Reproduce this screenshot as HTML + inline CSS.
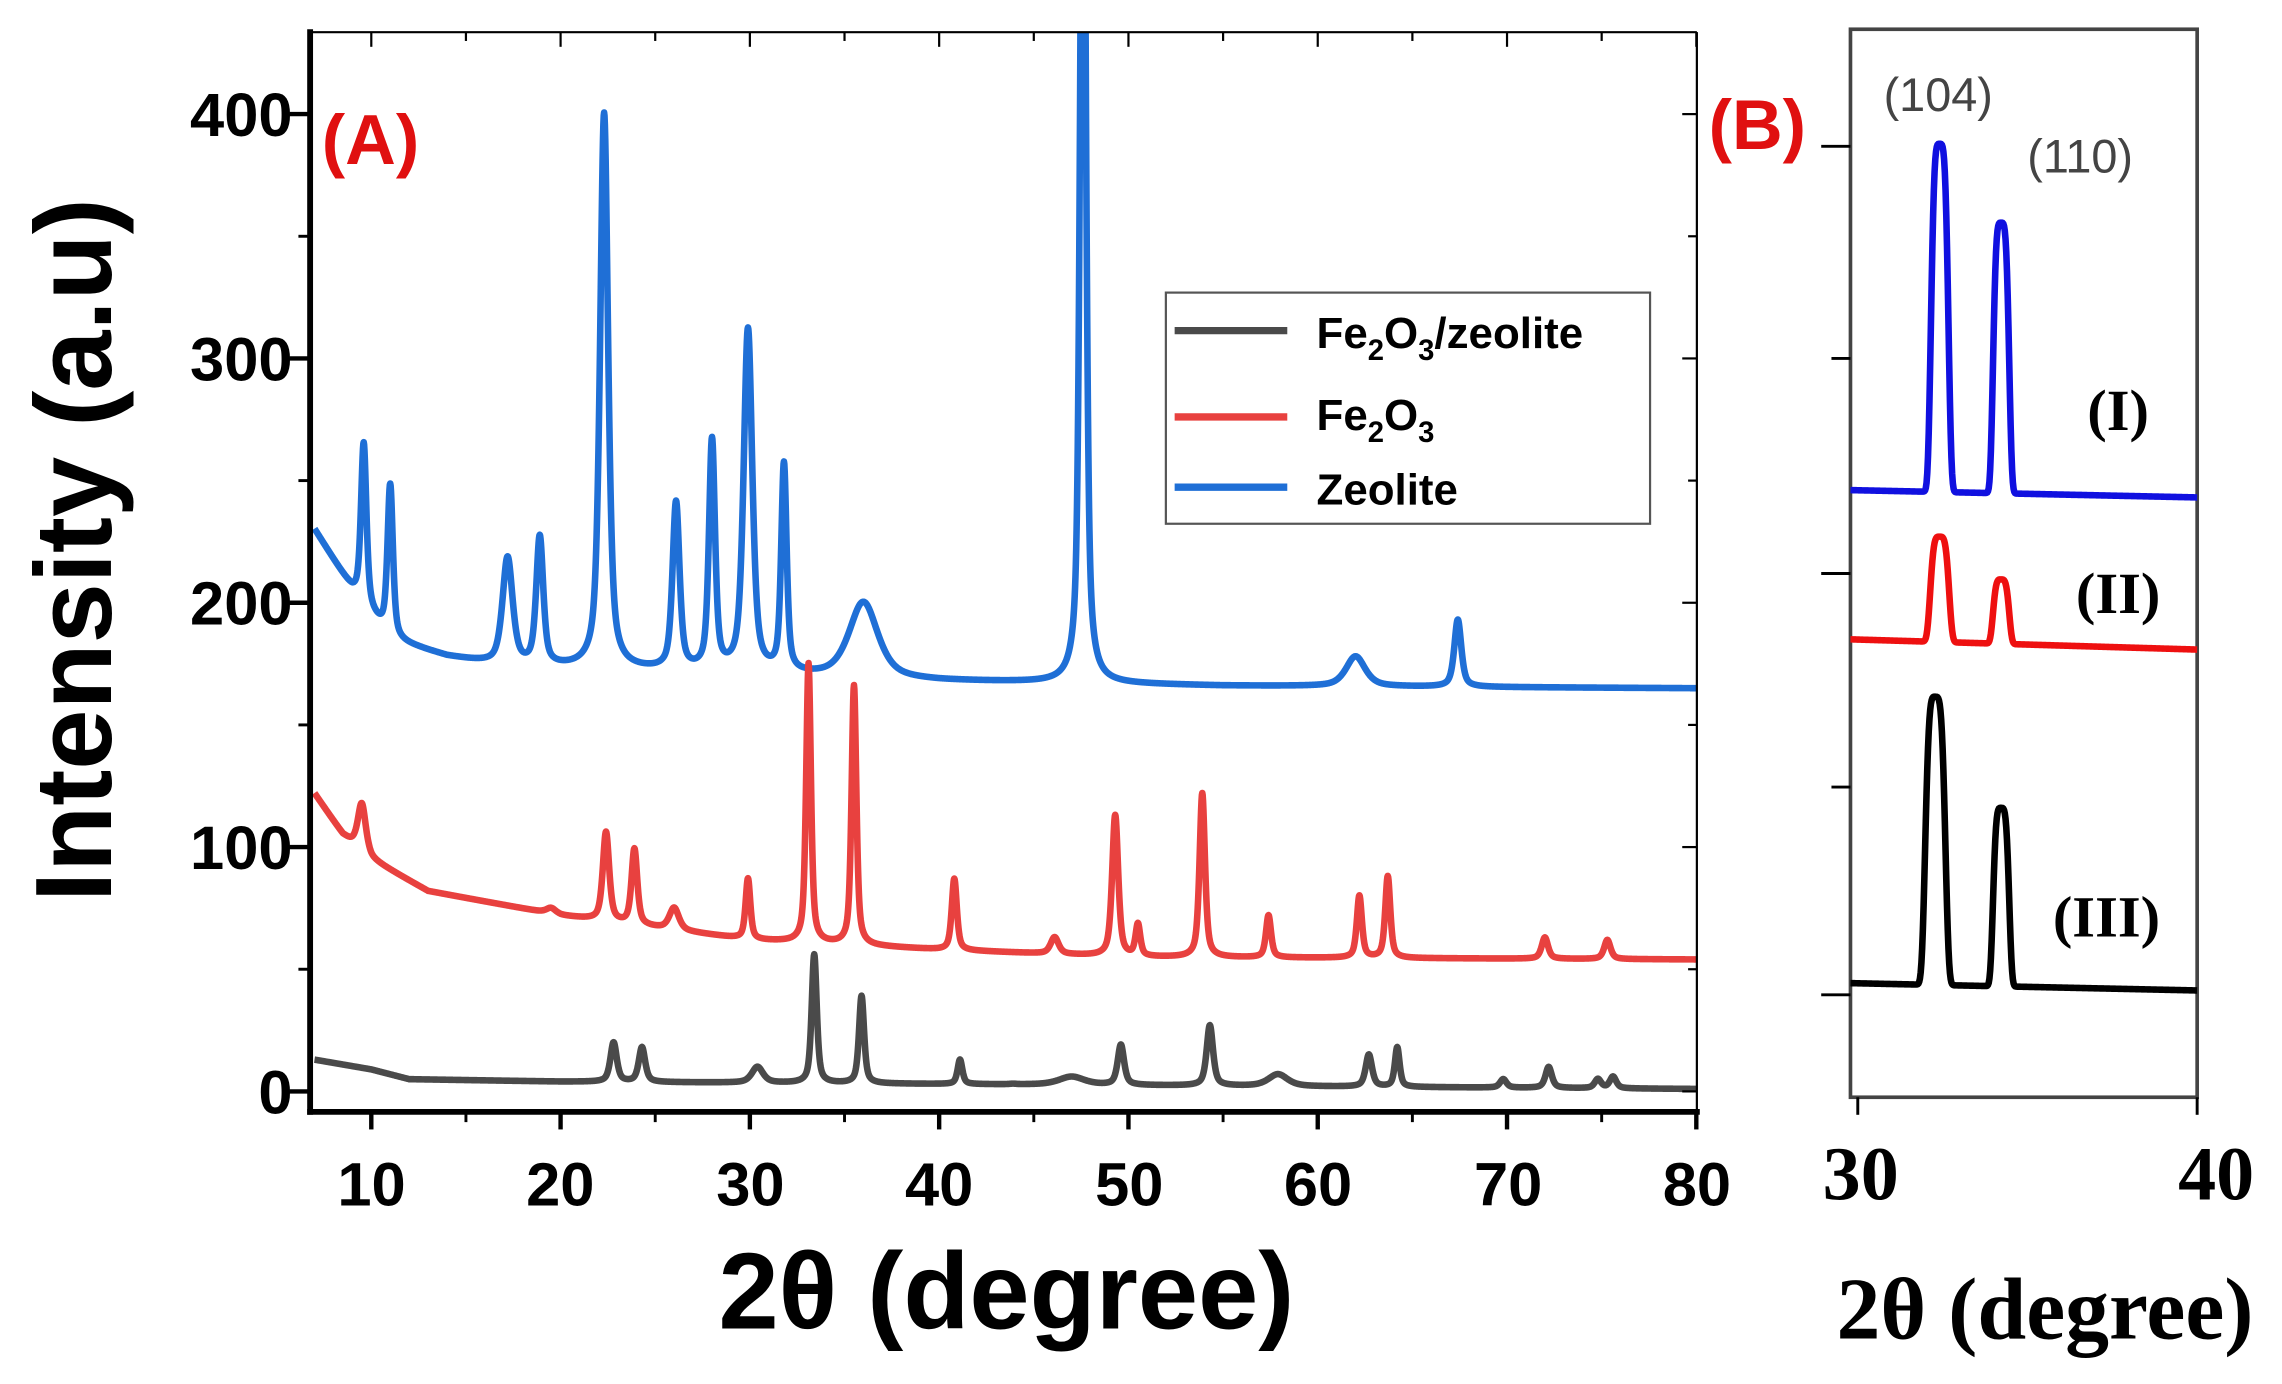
<!DOCTYPE html>
<html><head><meta charset="utf-8"><style>
html,body{margin:0;padding:0;background:#fff}
svg{display:block}
</style></head><body>
<svg id="s" width="2282" height="1384" viewBox="0 0 1560 946" preserveAspectRatio="none" xmlns="http://www.w3.org/2000/svg">
<rect width="1560" height="946" fill="#fff"/>
<defs><clipPath id="ca"><rect x="212" y="22" width="948" height="738"/></clipPath></defs>
<g id="series" clip-path="url(#ca)"></g>
<line x1="212" y1="20" x2="212" y2="762" stroke="#000" stroke-width="4"/>
<line x1="210" y1="760" x2="1162" y2="760" stroke="#000" stroke-width="4"/>
<line x1="212" y1="22" x2="1160" y2="22" stroke="#000" stroke-width="1.5"/>
<line x1="1160" y1="22" x2="1160" y2="760" stroke="#000" stroke-width="1.5"/>
<g id="ticks" stroke="#000"></g>
<g font-family="Liberation Sans, sans-serif" font-weight="bold" font-size="42" fill="#000" text-anchor="end">
<text x="200" y="93">400</text><text x="200" y="260">300</text><text x="200" y="427">200</text><text x="200" y="594">100</text><text x="200" y="761">0</text>
</g>
<g font-family="Liberation Sans, sans-serif" font-weight="bold" font-size="42" fill="#000" text-anchor="middle">
<text x="254" y="824">10</text><text x="383" y="824">20</text><text x="513" y="824">30</text><text x="642" y="824">40</text><text x="772" y="824">50</text><text x="901" y="824">60</text><text x="1031" y="824">70</text><text x="1160" y="824">80</text>
</g>
<text x="688" y="908" font-family="Liberation Sans, sans-serif" font-weight="bold" font-size="74" text-anchor="middle">2θ (degree)</text>
<text transform="translate(76,376) rotate(-90)" font-family="Liberation Sans, sans-serif" font-weight="bold" font-size="74" text-anchor="middle">Intensity (a.u)</text>
<text x="220" y="112" font-family="Liberation Sans, sans-serif" font-weight="bold" font-size="48" fill="#e01010">(A)</text>
<text x="1168" y="102" font-family="Liberation Sans, sans-serif" font-weight="bold" font-size="48" fill="#e01010">(B)</text>
<rect x="797" y="200" width="331" height="158" fill="#fff" stroke="#555" stroke-width="1.5"/>
<line x1="803" y1="226" x2="880" y2="226" stroke="#4a4a4a" stroke-width="5"/>
<line x1="803" y1="285" x2="880" y2="285" stroke="#e8413f" stroke-width="5"/>
<line x1="803" y1="333" x2="880" y2="333" stroke="#1f6fd6" stroke-width="5"/>
<g font-family="Liberation Sans, sans-serif" font-weight="bold" font-size="30" fill="#000">
<text x="900" y="238">Fe<tspan font-size="20" dy="8">2</tspan><tspan dy="-8">O</tspan><tspan font-size="20" dy="8">3</tspan><tspan dy="-8">/zeolite</tspan></text>
<text x="900" y="294">Fe<tspan font-size="20" dy="8">2</tspan><tspan dy="-8">O</tspan><tspan font-size="20" dy="8">3</tspan></text>
<text x="900" y="345">Zeolite</text>
</g>
<rect x="1265" y="20" width="237" height="730" fill="none" stroke="#444" stroke-width="2.5"/>
<g stroke="#000" stroke-width="2">
<line x1="1245" y1="100" x2="1265" y2="100"/><line x1="1252" y1="245" x2="1265" y2="245"/><line x1="1245" y1="392" x2="1265" y2="392"/><line x1="1252" y1="538" x2="1265" y2="538"/><line x1="1245" y1="680" x2="1265" y2="680"/>
<line x1="1270" y1="750" x2="1270" y2="762"/><line x1="1502" y1="750" x2="1502" y2="762"/>
</g>
<g id="bser"></g>
<g font-family="Liberation Serif, serif" font-weight="bold" fill="#000">
<text x="1272" y="820" font-size="52" text-anchor="middle">30</text>
<text x="1515" y="820" font-size="52" text-anchor="middle">40</text>
<text x="1398" y="915" font-size="60" text-anchor="middle">2θ (degree)</text>
<text x="1448" y="294" font-size="40" text-anchor="middle">(I)</text>
<text x="1448" y="419" font-size="40" text-anchor="middle">(II)</text>
<text x="1440" y="640" font-size="40" text-anchor="middle">(III)</text>
</g>
<g font-family="Liberation Sans, sans-serif" font-size="32" fill="#444">
<text x="1325" y="76" text-anchor="middle">(104)</text>
<text x="1422" y="118" text-anchor="middle">(110)</text>
</g>
</svg>
<script>
var NS="http://www.w3.org/2000/svg";
function X(x){return 215+(x-7)*12.94;}
function Y(v){return 746-v*1.67;}
function el(p,n,a){var e=document.createElementNS(NS,n);for(var k in a)e.setAttribute(k,a[k]);p.appendChild(e);return e;}
function interp(pts,x){for(var i=0;i<pts.length-1;i++){if(x<=pts[i+1][0]){var t=(x-pts[i][0])/(pts[i+1][0]-pts[i][0]);return pts[i][1]+t*(pts[i+1][1]-pts[i][1]);}}return pts[pts.length-1][1];}
function series(base,peaks,col){
 var d="";
 for(var x=7;x<=80.001;x+=0.02){
  var v=interp(base,x);
  peaks.forEach(function(p){var w=p[2]||0.18;var b=interp(base,p[0]);var h=p[1]-b;var u=(x-p[0])/w;v+=h*(0.6/(1+u*u)+0.4*Math.exp(-u*u*0.7));});
  d+=(d?"L":"M")+X(x).toFixed(2)+","+Y(v).toFixed(2);
 }
 el(document.getElementById("series"),"path",{d:d,fill:"none",stroke:col,"stroke-width":4.5,"stroke-linejoin":"round"});
}
series([[7,230],[9,205],[11,185],[14,178],[17,174],[25,172],[40,168],[55,166],[80,165]],
 [[9.6,265,0.17],[11.0,248,0.17],[17.2,218,0.32],[18.9,226,0.22],[22.3,400,0.25],[26.1,240,0.22],[28.0,265,0.19],[29.9,311,0.27],[31.8,255,0.17],[36,200,0.9],[47.6,600,0.17],[62,178,0.6],[67.4,193,0.22]],"#1f6fd6");
series([[7,122],[8.5,105],[10,95],[13,82],[20,72],[30,62],[40,58],[50,55],[80,54]],
 [[9.5,118,0.25],[19.5,75,0.3],[22.4,106,0.2],[23.9,99,0.18],[26,75,0.3],[29.9,87,0.15],[33.1,175,0.15],[35.5,166,0.15],[40.8,87,0.16],[46.1,63,0.25],[49.3,113,0.19],[50.5,68,0.15],[53.9,122,0.17],[57.4,72,0.16],[62.2,80,0.16],[63.7,88,0.16],[72,63,0.2],[75.3,62,0.2]],"#e8413f");
series([[7,13],[10,9],[12,5],[20,4],[40,3],[60,2],[80,1]],
 [[22.8,20,0.2],[24.3,18,0.2],[30.4,10,0.35],[33.4,56,0.16],[35.9,39,0.16],[41.1,13,0.15],[43.9,3,0.2],[47,6,0.8],[49.6,19,0.2],[54.3,27,0.2],[57.9,7,0.6],[62.7,15,0.2],[64.2,18,0.15],[69.8,5,0.2],[72.2,10,0.2],[74.8,5,0.2],[75.6,6,0.2]],"#4a4a4a");
var tg=document.getElementById("ticks");
for(var x=10;x<=80;x+=5){var px=X(x);var big=(x%10==0);
 el(tg,"line",{x1:px,y1:760,x2:px,y2:big?772:767,"stroke-width":big?3:2});
 el(tg,"line",{x1:px,y1:22,x2:px,y2:big?32:28,"stroke-width":1.5});}
for(var v=0;v<=400;v+=50){var py=Y(v);var big=(v%100==0);
 el(tg,"line",{x1:big?198:204,y1:py,x2:212,y2:py,"stroke-width":big?3:2});
 el(tg,"line",{x1:1160,y1:py,x2:big?1150:1154,y2:py,"stroke-width":1.5});}
function bs(base0,base1,peaks,col){
 var d="";
 for(var x=1265;x<=1502;x+=0.5){
  var v=base0+(base1-base0)*(x-1265)/237;
  peaks.forEach(function(p){var u=(x-p[0])/p[2];v-=(base0-p[1])*Math.exp(-Math.pow(Math.abs(u),4));});
  d+=(d?"L":"M")+x+","+v.toFixed(2);
 }
 el(document.getElementById("bser"),"path",{d:d,fill:"none",stroke:col,"stroke-width":4.5});
}
bs(335,340,[[1326,97,6.5],[1368,150,6]],"#1010e0");
bs(437,444,[[1326,365,7],[1368,393,6]],"#ee1010");
bs(672,677,[[1323,475,7.5],[1368,550,6]],"#000");
</script>
</body></html>
